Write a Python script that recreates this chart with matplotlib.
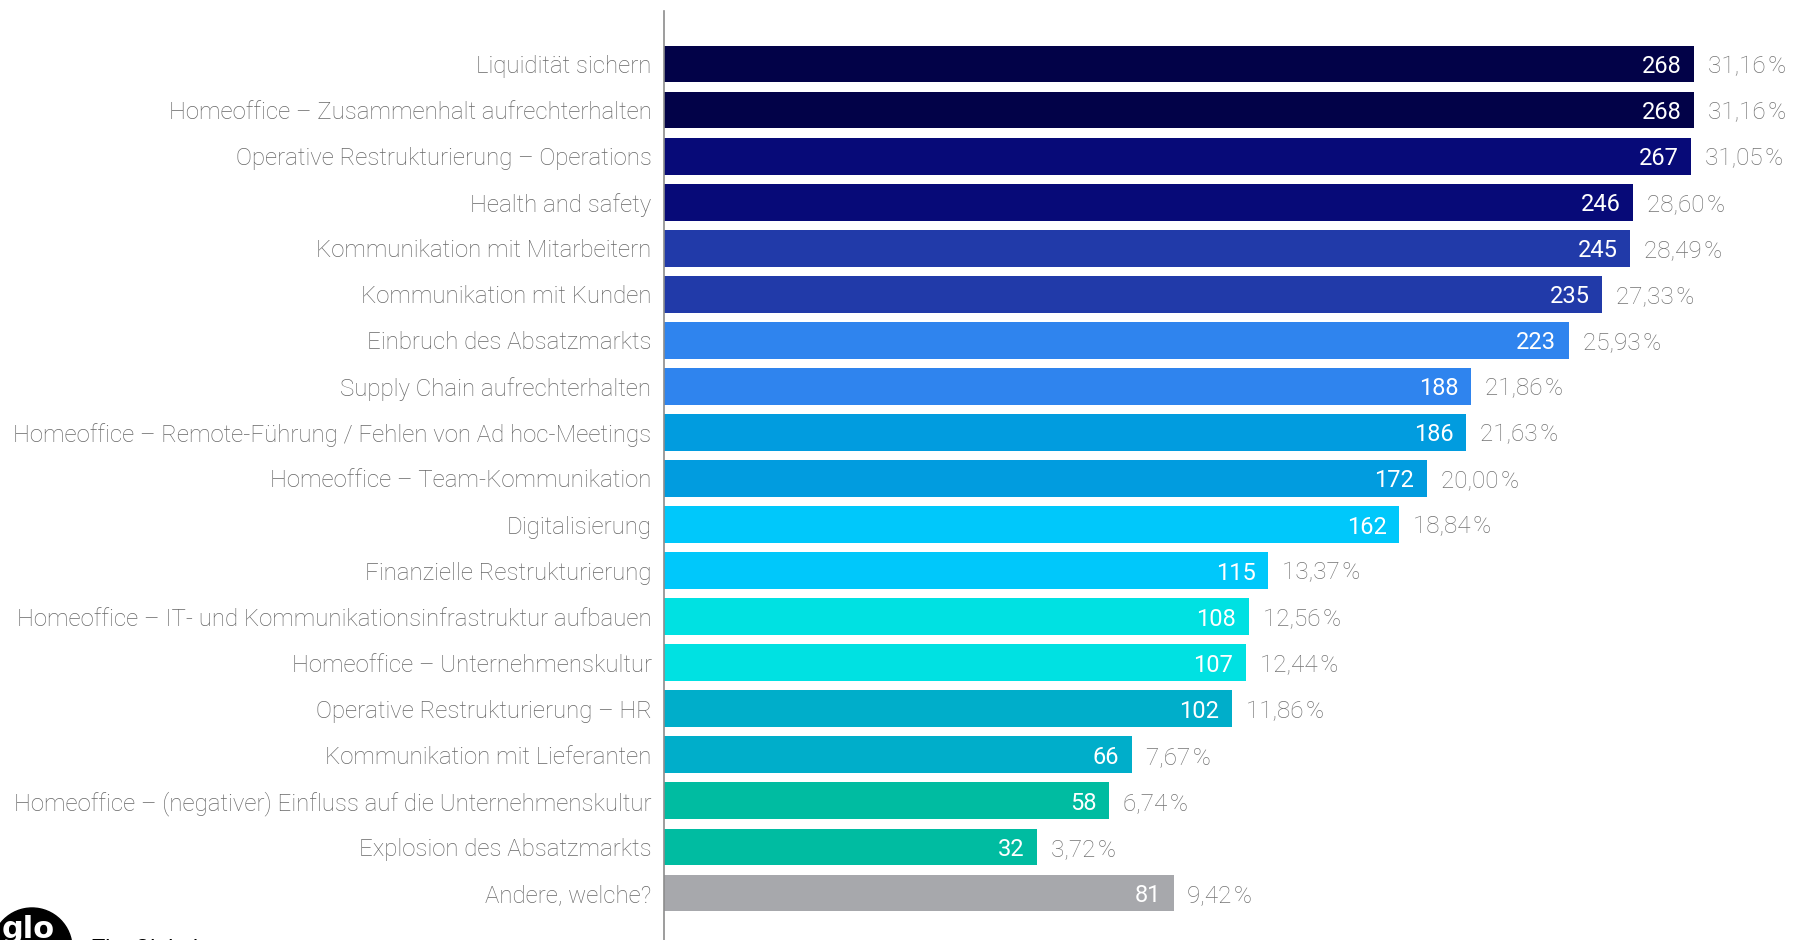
import matplotlib
matplotlib.use('Agg')
import matplotlib.pyplot as plt
from matplotlib.patches import Circle

FIGSIZE = (17.98, 9.40)
DPI = 100
FONT = ['Roboto', 'DejaVu Sans']

CATEGORIES = [
    'Liquidität sichern',
    'Homeoffice – Zusammenhalt aufrechterhalten',
    'Operative Restrukturierung – Operations',
    'Health and safety',
    'Kommunikation mit Mitarbeitern',
    'Kommunikation mit Kunden',
    'Einbruch des Absatzmarkts',
    'Supply Chain aufrechterhalten',
    'Homeoffice – Remote-Führung / Fehlen von Ad hoc-Meetings',
    'Homeoffice – Team-Kommunikation',
    'Digitalisierung',
    'Finanzielle Restrukturierung',
    'Homeoffice – IT- und Kommunikationsinfrastruktur aufbauen',
    'Homeoffice – Unternehmenskultur',
    'Operative Restrukturierung – HR',
    'Kommunikation mit Lieferanten',
    'Homeoffice – (negativer) Einfluss auf die Unternehmenskultur',
    'Explosion des Absatzmarkts',
    'Andere, welche?',
]
COUNTS = [268, 268, 267, 246, 245, 235, 223, 188, 186, 172, 162, 115, 108, 107, 102, 66, 58, 32, 81]
PERCENTS = ['31,16', '31,16', '31,05', '28,60', '28,49', '27,33', '25,93', '21,86', '21,63', '20,00',
            '18,84', '13,37', '12,56', '12,44', '11,86', '7,67', '6,74', '3,72', '9,42']
COLORS = ['#020248', '#020248', '#070A78', '#070A78', '#213AA9', '#213AA9', '#2F84EE', '#2F84EE',
          '#019CDF', '#019CDF', '#00C8FB', '#00C8FB', '#00E1E2', '#00E1E2', '#00AECA', '#00AECA',
          '#00BCA1', '#00BCA1', '#A7A8AC']

# bars start at the axis line, which sits a bit below zero on the value scale
BASE = 102
XLIM = (-BASE, 305.3)
YLIM = (19.02, -1.15)

fig = plt.figure(figsize=FIGSIZE, dpi=DPI)
ax = fig.add_axes([664 / 1798, 0, 1 - 664 / 1798, 1 - 11 / 940])

ypos = list(range(len(CATEGORIES)))
widths = [c + BASE for c in COUNTS]
ax.barh(ypos, widths, left=-BASE, height=0.8, color=COLORS, linewidth=0)

for y, c, p in zip(ypos, COUNTS, PERCENTS):
    ax.annotate(str(c), (c, y), xytext=(-9, 0), textcoords='offset points',
                ha='right', va='center_baseline', color='white', fontsize=17, family=FONT)
    ax.annotate(p + '\u200a%', (c, y), xytext=(10, 0), textcoords='offset points',
                ha='left', va='center_baseline', color='#737373', fontsize=17.5, family=FONT,
                fontweight='light')
    ax.annotate(CATEGORIES[y], (-BASE, y), xytext=(-9, 0), textcoords='offset points',
                ha='right', va='center_baseline', color='#666666', fontsize=17.3, family=FONT,
                fontweight='light', annotation_clip=False)

ax.set_xlim(XLIM)
ax.set_ylim(YLIM)
ax.set_xticks([])
ax.set_yticks([])
for side in ('top', 'right', 'bottom'):
    ax.spines[side].set_visible(False)
ax.spines['left'].set_color('#8c8c8c')
ax.spines['left'].set_linewidth(1.2)

# cut-off logo in the lower left corner
fig.patches.append(Circle((32, -8), 40, transform=None, color='black', zorder=5))
fig.text(2 / 1798, 1 - 938 / 940, 'glo', color='white', fontsize=22, fontweight='bold',
         family=['DejaVu Sans'], va='baseline', zorder=6)
fig.text(92 / 1798, 1 - 955 / 940, 'The Global', color='black', fontsize=16, family=FONT, va='baseline')

fig.savefig('out.png', dpi=DPI)
